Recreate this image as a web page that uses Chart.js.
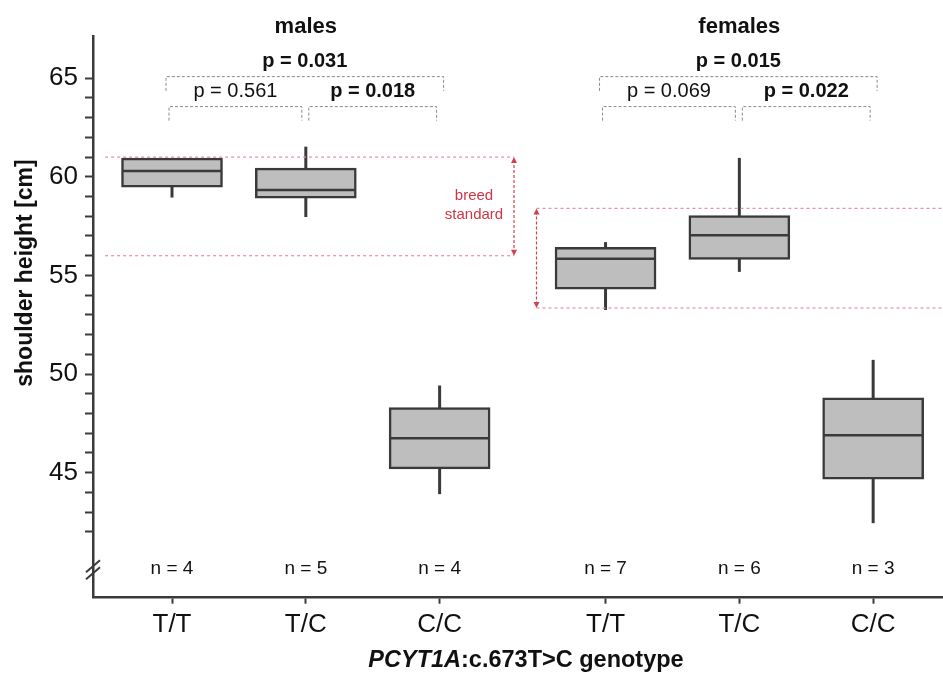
<!DOCTYPE html>
<html><head><meta charset="utf-8">
<script src="https://cdn.jsdelivr.net/npm/chart.js@4"></script>
<style>html,body{margin:0;padding:0;background:#fff}#wrap{width:943px;height:673px;position:relative}canvas{display:block}</style>
</head><body><div id="wrap"><canvas id="c" width="943" height="673"></canvas></div>
<script>
// ---- data ----
const categories = ['T/T','T/C','C/C','T/T','T/C','C/C'];
const groupTitles = ['males','females'];
const groupMembers = [[0,1,2],[3,4,5]];
const xPositions = [1,2,3,4.24,5.24,6.24];
const sampleSizes = [4,5,4,7,6,3];
const whiskerLow  = [58.95, 57.96, 43.91, 53.25, 55.18, 42.44];
const q1Values    = [59.48, 58.92, 45.19, 54.30, 55.81, 44.67];
const medianValues= [60.30, 59.33, 46.75, 55.84, 57.04, 46.90];
const q3Values    = [60.95, 60.44, 48.30, 56.43, 58.03, 48.80];
const whiskerHigh = [60.95, 61.53, 49.42, 56.69, 60.96, 50.72];
const yTickValues = [42,43,44,45,46,47,48,49,50,51,52,53,54,55,56,57,58,59,60,61,62,63,64,65];
const yLabelValues = [45,50,55,60,65];
const breedMin = [56, 53.35];
const breedMax = [61, 58.4];
const comparisonPairs = [[0,2],[0,1],[1,2],[3,5],[3,4],[4,5]];
const comparisonLabels = ['p = 0.031','p = 0.561','p = 0.018','p = 0.015','p = 0.069','p = 0.022'];
const comparisonBold = [true,false,true,true,false,true];
const comparisonLevel = [2,1,1,2,1,1];

const FONT = "'Liberation Sans', Arial, Helvetica, sans-serif";
const DARK = '#3a3a3a';
Chart.defaults.font.family = FONT;

const annot = {
  id: 'annot',
  beforeDatasetsDraw(chart) {
    const {ctx, scales:{x, y}} = chart;
    ctx.save();
    ctx.strokeStyle = DARK; ctx.lineWidth = 3; ctx.lineCap = 'butt';
    xPositions.forEach((xv, i) => {
      const px = x.getPixelForValue(xv);
      ctx.beginPath();
      ctx.moveTo(px, y.getPixelForValue(whiskerLow[i]));
      ctx.lineTo(px, y.getPixelForValue(whiskerHigh[i]));
      ctx.stroke();
    });
    const bands = [
      {from: 0.5, to: 3.556, arrow: 3.556},
      {from: 3.724, to: x.max, arrow: 3.724}
    ];
    bands.forEach((b, i) => {
      const x0 = x.getPixelForValue(b.from), x1 = x.getPixelForValue(b.to);
      const yt = y.getPixelForValue(breedMax[i]), yb = y.getPixelForValue(breedMin[i]);
      ctx.strokeStyle = '#e8909c'; ctx.lineWidth = 1.2; ctx.setLineDash([3,3]);
      [yt, yb].forEach(py => { ctx.beginPath(); ctx.moveTo(x0, py); ctx.lineTo(x1, py); ctx.stroke(); });
      const ax = x.getPixelForValue(b.arrow);
      ctx.strokeStyle = '#d4404f'; ctx.setLineDash([3,2]);
      ctx.beginPath(); ctx.moveTo(ax, yt + 3); ctx.lineTo(ax, yb - 3); ctx.stroke();
      ctx.setLineDash([]);
      ctx.fillStyle = '#d4404f';
      ctx.beginPath(); ctx.moveTo(ax, yt); ctx.lineTo(ax - 3, yt + 6); ctx.lineTo(ax + 3, yt + 6); ctx.closePath(); ctx.fill();
      ctx.beginPath(); ctx.moveTo(ax, yb); ctx.lineTo(ax - 3, yb - 6); ctx.lineTo(ax + 3, yb - 6); ctx.closePath(); ctx.fill();
    });
    ctx.fillStyle = '#cf3545'; ctx.font = '15px ' + FONT; ctx.textAlign = 'center'; ctx.textBaseline = 'middle';
    const tx = x.getPixelForValue(3.257);
    ctx.fillText('breed', tx, y.getPixelForValue(59.05));
    ctx.fillText('standard', tx, y.getPixelForValue(58.07));
    ctx.restore();
  },
  afterDatasetsDraw(chart) {
    const {ctx, scales:{y}} = chart;
    const meta = chart.getDatasetMeta(0);
    ctx.save();
    ctx.strokeStyle = DARK; ctx.lineWidth = 2.5;
    meta.data.forEach((bar, i) => {
      const py = y.getPixelForValue(medianValues[i]);
      ctx.beginPath();
      ctx.moveTo(bar.x - bar.width / 2 + 1, py);
      ctx.lineTo(bar.x + bar.width / 2 - 1, py);
      ctx.stroke();
    });
    ctx.restore();
  },
  afterDraw(chart) {
    const {ctx, scales:{x, y}, chartArea} = chart;
    ctx.save();
    ctx.fillStyle = '#111'; ctx.textAlign = 'center'; ctx.textBaseline = 'middle';
    ctx.font = 'bold 22px ' + FONT;
    groupMembers.forEach((m, g) => {
      const cx = (x.getPixelForValue(xPositions[m[0]]) + x.getPixelForValue(xPositions[m[m.length-1]])) / 2;
      ctx.fillText(groupTitles[g], cx, y.getPixelForValue(67.58));
    });
    const levels = {2: {top: 65.08, leg: 64.36, text: 65.84}, 1: {top: 63.56, leg: 62.85, text: 64.32}};
    comparisonPairs.forEach((pair, k) => {
      const lv = levels[comparisonLevel[k]];
      let xa = x.getPixelForValue(xPositions[pair[0]]);
      let xb = x.getPixelForValue(xPositions[pair[1]]);
      if (comparisonLevel[k] === 2) { xa -= 6; xb += 4; }
      else if (pair[0] % 3 === 0) { xa -= 3; xb -= 4; }
      else { xa += 3; xb -= 3; }
      const yt = y.getPixelForValue(lv.top), yl = y.getPixelForValue(lv.leg);
      ctx.strokeStyle = '#8a8a8a'; ctx.lineWidth = 1; ctx.setLineDash([3,2]);
      ctx.beginPath(); ctx.moveTo(xa, yl); ctx.lineTo(xa, yt); ctx.lineTo(xb, yt); ctx.lineTo(xb, yl); ctx.stroke();
      ctx.setLineDash([]);
      ctx.font = (comparisonBold[k] ? 'bold ' : '') + '20px ' + FONT;
      ctx.fillText(comparisonLabels[k], (xa + xb) / 2, y.getPixelForValue(lv.text));
    });
    ctx.font = '19px ' + FONT;
    xPositions.forEach((xv, i) => {
      ctx.fillText('n = ' + sampleSizes[i], x.getPixelForValue(xv), y.getPixelForValue(40.11));
    });
    const bx = chartArea.left, by = y.getPixelForValue(40.08);
    ctx.strokeStyle = DARK; ctx.lineWidth = 2;
    [-3.5, 3.5].forEach(d => {
      ctx.beginPath(); ctx.moveTo(bx - 7, by + d + 6); ctx.lineTo(bx + 7, by + d - 6); ctx.stroke();
    });
    ctx.save();
    ctx.translate(26, 273); ctx.rotate(-Math.PI / 2);
    ctx.font = 'bold 23px ' + FONT; ctx.fillStyle = '#111';
    ctx.fillText('shoulder height [cm]', 0, 0);
    ctx.restore();
    const p1 = 'PCYT1A', p2 = ':c.673T>C genotype';
    ctx.font = 'italic bold 23.5px ' + FONT; const w1 = ctx.measureText(p1).width;
    ctx.font = 'bold 23.5px ' + FONT; const w2 = ctx.measureText(p2).width;
    const sx = 526 - (w1 + w2) / 2, ty = 661;
    ctx.textAlign = 'left';
    ctx.font = 'italic bold 23.5px ' + FONT; ctx.fillText(p1, sx, ty);
    ctx.font = 'bold 23.5px ' + FONT; ctx.fillText(p2, sx + w1, ty);
    ctx.restore();
  }
};

new Chart(document.getElementById('c'), {
  type: 'bar',
  data: {
    datasets: [{
      data: xPositions.map((xv, i) => ({x: xv, y: [q1Values[i], q3Values[i]]})),
      backgroundColor: '#bebebe',
      borderColor: DARK,
      borderWidth: 2.5,
      borderSkipped: false,
      barThickness: 101
    }]
  },
  options: {
    responsive: false,
    animation: false,
    devicePixelRatio: 1,
    layout: {padding: {top: 36, left: 0, right: 0, bottom: 0}},
    plugins: {legend: {display: false}, tooltip: {enabled: false}, title: {display: false}},
    scales: {
      x: {
        type: 'linear', min: 0.4096, max: 6.762, offset: false,
        afterBuildTicks: s => { s.ticks = xPositions.map(v => ({value: v})); },
        afterFit: s => { s.height = 75.3; },
        ticks: {callback: (v, i) => categories[i], font: {size: 26}, color: '#111', padding: 6, autoSkip: false, maxRotation: 0},
        grid: {display: true, offset: false, drawOnChartArea: false, drawTicks: true, tickLength: 6, tickWidth: 2, tickColor: DARK},
        border: {display: true, color: DARK, width: 2.5}
      },
      y: {
        type: 'linear', min: 38.66, max: 67.14, beginAtZero: false,
        afterBuildTicks: s => { s.ticks = yTickValues.map(v => ({value: v})); },
        afterFit: s => { s.width = 93; },
        ticks: {callback: v => yLabelValues.includes(v) ? String(v) : '', font: {size: 26}, color: '#111', padding: 7, autoSkip: false},
        grid: {display: true, drawOnChartArea: false, drawTicks: true, tickLength: 8, tickWidth: 2, tickColor: DARK},
        border: {display: true, color: DARK, width: 2.5}
      }
    }
  },
  plugins: [annot]
});
</script></body></html>
